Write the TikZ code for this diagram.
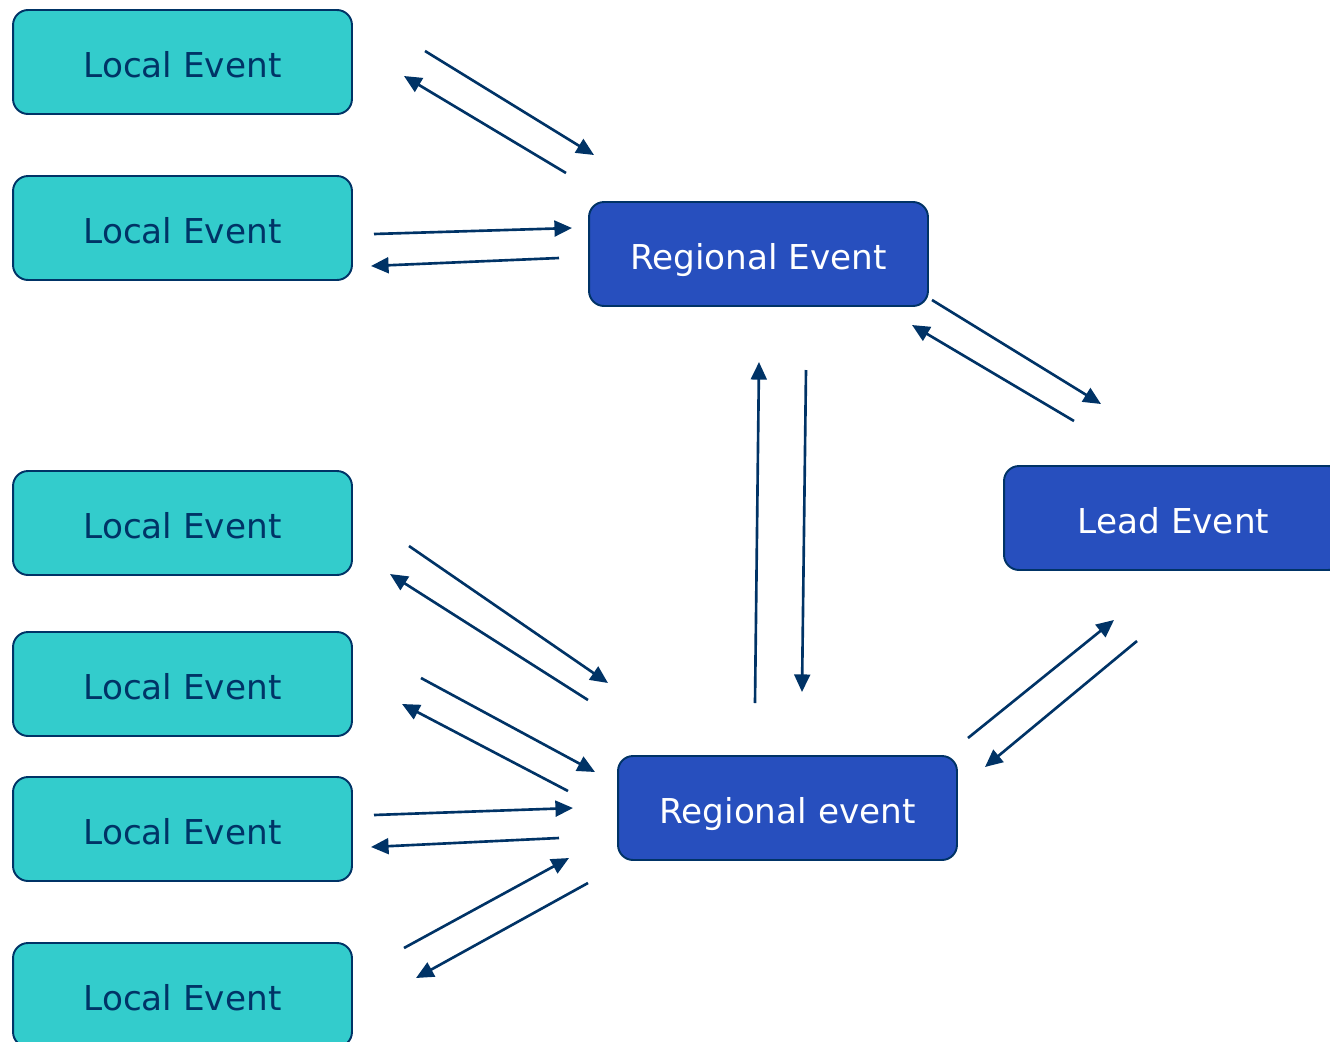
\documentclass[tikz,border=0pt]{standalone}
\usepackage{fontspec}
\setmainfont{DejaVu Sans}
\usetikzlibrary{arrows.meta}

\definecolor{navy}{HTML}{003366}
\definecolor{teal}{HTML}{33CCCC}
\definecolor{royal}{HTML}{274FBE}

\begin{document}
\begin{tikzpicture}[x=0.02cm, y=-0.02cm,
    local/.style ={rectangle, rounded corners=0.3cm, draw=navy, line width=1.1pt,
      fill=teal, text=navy, minimum width=6.78cm, minimum height=2.08cm,
      text height=18pt, text depth=0pt,
      font=\fontsize{19.5}{22}\selectfont},
    regional/.style ={local, fill=royal, text=white},
    flow/.style ={draw=navy, line width=1.5pt, -{Triangle[length=10pt,width=9pt]}}]
   \clip (0,0) rectangle (1330,1042);

   \node[local] (L1) at (182.5,62)  {Local Event};
   \node[local] (L2) at (182.5,228) {Local Event};
   \node[local] (L3) at (182.5,523) {Local Event};
   \node[local] (L4) at (182.5,684) {Local Event};
   \node[local] (L5) at (182.5,829) {Local Event};
   \node[local] (L6) at (182.5,995) {Local Event};
   \node[regional] (R1) at (758.5,254) {Regional Event};
   \node[regional] (R2) at (787.5,808) {Regional event};
   \node[regional] (LE) at (1173.5,518) {Lead Event};

   % ends of the arrows
   \coordinate (a1) at (425,51);   \coordinate (b1) at (594,155);
   \coordinate (a2) at (566,173);  \coordinate (b2) at (404,76);
   \coordinate (a3) at (374,234);  \coordinate (b3) at (572,228);
   \coordinate (a4) at (559,258);  \coordinate (b4) at (371,266);
   \coordinate (a5) at (932,300);  \coordinate (b5) at (1101,404);
   \coordinate (a6) at (1074,421); \coordinate (b6) at (912,325);
   \coordinate (a7) at (755,703);  \coordinate (b7) at (759,362);
   \coordinate (a8) at (806,370);  \coordinate (b8) at (802,692);
   \coordinate (a9) at (409,546);  \coordinate (b9) at (608,683);
   \coordinate (a10) at (588,700); \coordinate (b10) at (390,574);
   \coordinate (a11) at (421,678); \coordinate (b11) at (595,772);
   \coordinate (a12) at (568,791); \coordinate (b12) at (402,704);
   \coordinate (a13) at (374,815); \coordinate (b13) at (573,808);
   \coordinate (a14) at (559,838); \coordinate (b14) at (371,847);
   \coordinate (a15) at (404,948); \coordinate (b15) at (569,858);
   \coordinate (a16) at (588,883); \coordinate (b16) at (416,978);
   \coordinate (a17) at (968,738); \coordinate (b17) at (1114,620);
   \coordinate (a18) at (1137,641);\coordinate (b18) at (985,767);

   \foreach \i in {1,...,18}
     \draw[flow] (a\i) -- (b\i);
\end{tikzpicture}
\end{document}
